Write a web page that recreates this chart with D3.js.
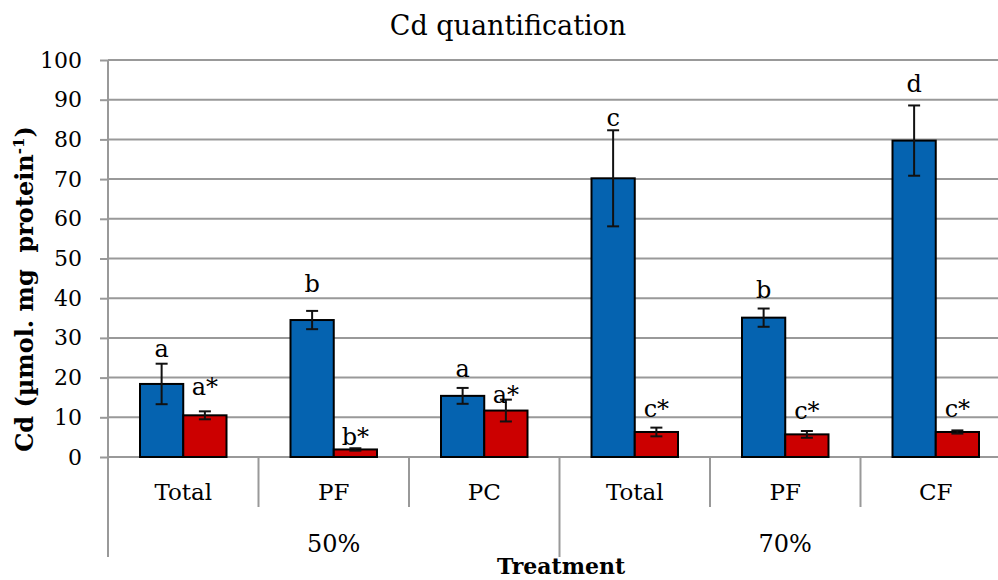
<!DOCTYPE html>
<html>
<head>
<meta charset="utf-8">
<script src="https://cdn.jsdelivr.net/npm/d3@7"></script>
<style>
  html, body { margin: 0; padding: 0; background: #fff; }
  svg { display: block; font-family: "DejaVu Serif", serif; }
</style>
</head>
<body>
<svg id="chart" width="998" height="580"></svg>
<script>
// ---- data ----
const categories = ["Total", "PF", "PC", "Total", "PF", "CF"];
const groups = ["50%", "70%"];
const groupSizes = [3, 3];
const seriesNames = ["blue", "red"];
const blueValues = [18.4, 34.5, 15.4, 70.2, 35.1, 79.7];
const blueErrors = [5.1, 2.3, 2.0, 12.1, 2.3, 8.85];
const redValues = [10.5, 1.9, 11.7, 6.3, 5.7, 6.3];
const redErrors = [1.0, 0.3, 2.75, 1.1, 0.85, 0.4];
const blueLetters = ["a", "b", "a", "c", "b", "d"];
const redLetters = ["a*", "b*", "a*", "c*", "c*", "c*"];
const blueLabelAt = [25.2, 41.5, 20.1, 83.4, 40.0, 92.0];
const redLabelAt = [15.6, 3.0, 13.7, 10.2, 9.5, 10.2];
const yTicks = [0, 10, 20, 30, 40, 50, 60, 70, 80, 90, 100];

(function () {
// ---- layout ----
const svg = d3.select("#chart");
const pLeft = 108, pRight = 1011, pTop = 60, pBottom = 457;
const colors = { blue: "#0563b0", red: "#cc0000" };
const gridColor = "#999999";

const idx = categories.map((_, i) => i);
const x0 = d3.scaleBand().domain(idx).range([pLeft, pRight]).padding(0);
const bw = x0.bandwidth();
const x1 = d3.scaleBand().domain(seriesNames).range([32, bw - 32]).padding(0);
const y = d3.scaleLinear().domain([0, 100]).range([pBottom, pTop]);

// title
svg.append("text").attr("x", 508).attr("y", 35).attr("text-anchor", "middle")
  .attr("font-size", 27).attr("fill", "#000").text("Cd quantification");

// gridlines
svg.append("g").selectAll("line").data(yTicks).join("line")
  .attr("x1", pLeft).attr("x2", pRight)
  .attr("y1", d => y(d)).attr("y2", d => y(d))
  .attr("stroke", gridColor).attr("stroke-width", 2);

// y axis
const yAxis = d3.axisLeft(y).tickValues(yTicks).tickSize(8).tickPadding(18).tickFormat(d3.format("d"));
const ya = svg.append("g").attr("transform", `translate(${pLeft},0)`).call(yAxis);
ya.select(".domain").remove();
ya.selectAll(".tick line").attr("stroke", gridColor).attr("stroke-width", 2);
ya.selectAll(".tick text").attr("font-size", 22).attr("fill", "#000")
  .attr("font-family", "DejaVu Serif, serif");
svg.append("line").attr("x1", pLeft).attr("x2", pLeft).attr("y1", pTop).attr("y2", 557)
  .attr("stroke", gridColor).attr("stroke-width", 2);

// category separators
const boundaries = d3.range(1, categories.length + 1);
let cum = 0; const groupEnds = groupSizes.map(s => (cum += s));
svg.append("g").selectAll("line").data(boundaries).join("line")
  .attr("x1", d => pLeft + d * bw).attr("x2", d => pLeft + d * bw)
  .attr("y1", pBottom).attr("y2", d => groupEnds.includes(d) ? 557 : 507)
  .attr("stroke", gridColor).attr("stroke-width", 2);

// category labels
svg.append("g").selectAll("text").data(idx).join("text")
  .attr("x", d => x0(d) + bw / 2).attr("y", 500).attr("text-anchor", "middle")
  .attr("font-size", 23).attr("fill", "#000").text(d => categories[d]);

// group labels
let start = 0;
const groupCenters = groupSizes.map(s => { const c = pLeft + (start + s / 2) * bw; start += s; return c; });
svg.append("g").selectAll("text").data(groups).join("text")
  .attr("x", (d, i) => groupCenters[i]).attr("y", 552).attr("text-anchor", "middle")
  .attr("font-size", 24).attr("fill", "#000").text(d => d);

// x title
svg.append("text").attr("x", 561).attr("y", 574).attr("text-anchor", "middle")
  .attr("font-size", 22).attr("font-weight", "bold").attr("fill", "#000").text("Treatment");

// y title
const yt = svg.append("text").attr("transform", "translate(33,289) rotate(-90)")
  .attr("text-anchor", "middle").attr("font-size", 24).attr("font-weight", "bold").attr("fill", "#000")
  .attr("xml:space", "preserve");
yt.append("tspan").text("Cd (µmol. mg  protein");
yt.append("tspan").attr("dy", -9).attr("font-size", 15).text("-1");
yt.append("tspan").attr("dy", 9).text(")");

// bars
const series = [
  { key: "blue", values: blueValues, errors: blueErrors, letters: blueLetters, labelAt: blueLabelAt },
  { key: "red", values: redValues, errors: redErrors, letters: redLetters, labelAt: redLabelAt }
];
const barData = series.flatMap(s => idx.map(i => ({
  i, key: s.key, v: s.values[i], e: s.errors[i], letter: s.letters[i], la: s.labelAt[i]
})));

const g = svg.append("g");
g.selectAll("rect").data(barData).join("rect")
  .attr("x", d => x0(d.i) + x1(d.key)).attr("width", x1.bandwidth())
  .attr("y", d => y(d.v)).attr("height", d => y(0) - y(d.v))
  .attr("fill", d => colors[d.key]).attr("stroke", "#000").attr("stroke-width", 2);

// error bars
const cx = d => x0(d.i) + x1(d.key) + x1.bandwidth() / 2;
const eb = g.selectAll("g.err").data(barData).join("g").attr("class", "err")
  .attr("stroke", "#111").attr("stroke-width", 2);
eb.append("line").attr("x1", cx).attr("x2", cx)
  .attr("y1", d => y(d.v + d.e)).attr("y2", d => y(d.v - d.e));
eb.append("line").attr("x1", d => cx(d) - 6).attr("x2", d => cx(d) + 6)
  .attr("y1", d => y(d.v + d.e)).attr("y2", d => y(d.v + d.e));
eb.append("line").attr("x1", d => cx(d) - 6).attr("x2", d => cx(d) + 6)
  .attr("y1", d => y(d.v - d.e)).attr("y2", d => y(d.v - d.e));

// letters
g.selectAll("text.lbl").data(barData).join("text").attr("class", "lbl")
  .attr("x", d => cx(d)).attr("y", d => y(d.la)).attr("text-anchor", "middle")
  .attr("font-size", 24).attr("fill", "#000").text(d => d.letter);
})();
</script>
</body>
</html>
